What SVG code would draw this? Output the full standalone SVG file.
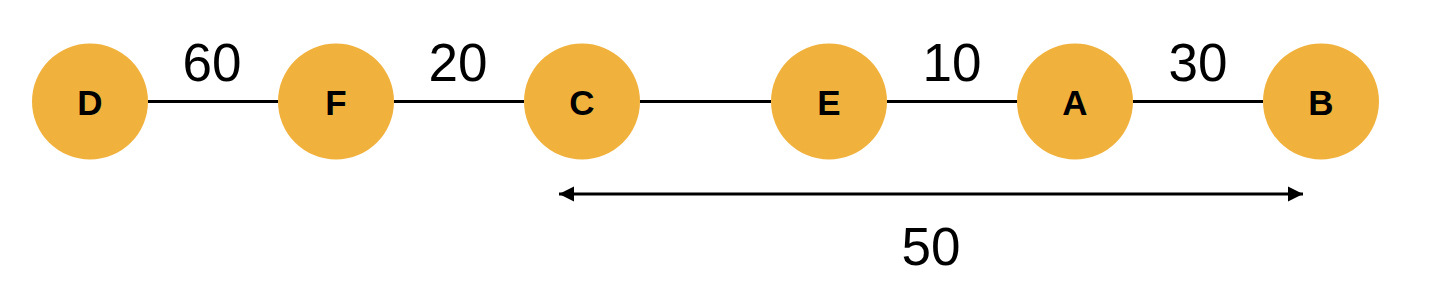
<svg xmlns="http://www.w3.org/2000/svg" width="1436" height="298" viewBox="0 0 1436 298">
<defs>
<style>
.node circle{fill:#F1B23D;}
.node text{font-family:"Liberation Sans",Arial,sans-serif;font-weight:bold;font-size:35px;fill:#000;text-anchor:middle;}
.lbl{font-family:"Liberation Sans",Arial,sans-serif;font-size:53px;fill:#000;text-anchor:middle;}
.edge{stroke:#000;stroke-width:3;fill:none;}
</style>
<marker id="ah" viewBox="0 0 10 10" refX="10" refY="5" markerWidth="5" markerHeight="5.5" orient="auto-start-reverse" markerUnits="strokeWidth">
<path d="M0,0 L10,5 L0,10 Z" fill="#000"/>
</marker>
</defs>
<rect width="1436" height="298" fill="#fff"/>
<g id="connectors">
<line class="edge" x1="148" y1="101.5" x2="278" y2="101.5"/>
<line class="edge" x1="394" y1="101.5" x2="524" y2="101.5"/>
<line class="edge" x1="640" y1="101.5" x2="771" y2="101.5"/>
<line class="edge" x1="887" y1="101.5" x2="1017" y2="101.5"/>
<line class="edge" x1="1133" y1="101.5" x2="1263" y2="101.5"/>
<line class="edge" x1="559" y1="194" x2="1303" y2="194" marker-start="url(#ah)" marker-end="url(#ah)"/>
</g>
<g id="labels">
<text class="lbl" x="212" y="81">60</text>
<text class="lbl" x="458" y="81">20</text>
<text class="lbl" x="952" y="81">10</text>
<text class="lbl" x="1198" y="81">30</text>
<text class="lbl" x="931" y="265">50</text>
</g>
<g id="D" class="node"><circle cx="90" cy="101.5" r="58"/><text x="90" y="115">D</text></g>
<g id="F" class="node"><circle cx="336" cy="101.5" r="58"/><text x="336" y="115">F</text></g>
<g id="C" class="node"><circle cx="582" cy="101.5" r="58"/><text x="582" y="115">C</text></g>
<g id="E" class="node"><circle cx="829" cy="101.5" r="58"/><text x="829" y="115">E</text></g>
<g id="A" class="node"><circle cx="1075" cy="101.5" r="58"/><text x="1075" y="115">A</text></g>
<g id="B" class="node"><circle cx="1321" cy="101.5" r="58"/><text x="1321" y="115">B</text></g>
</svg>
